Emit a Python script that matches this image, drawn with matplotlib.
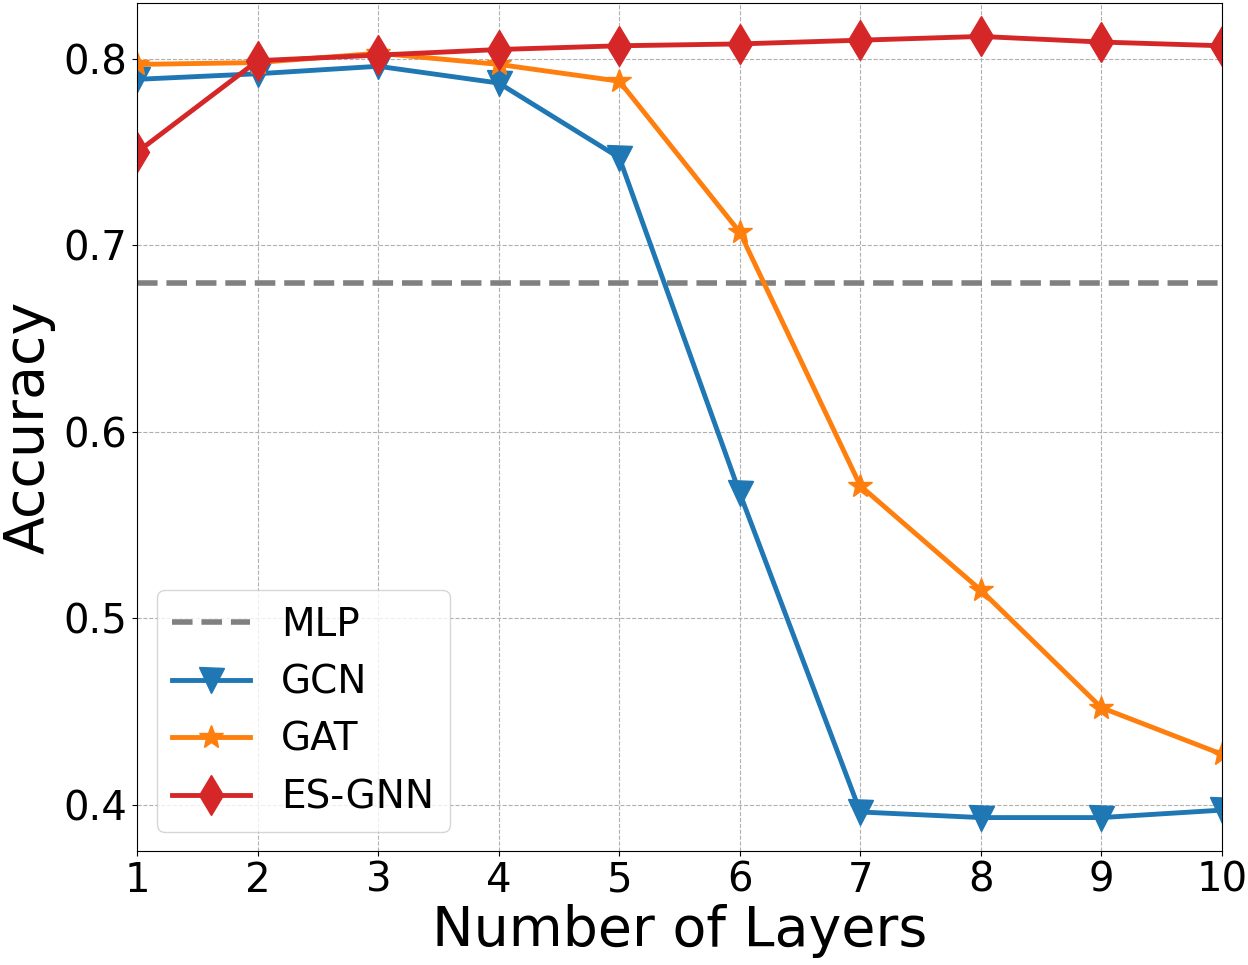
import matplotlib
matplotlib.use('Agg')
import matplotlib.pyplot as plt

layers = [1, 2, 3, 4, 5, 6, 7, 8, 9, 10]
mlp_acc = 0.680
gcn_acc = [0.789, 0.792, 0.796, 0.787, 0.747, 0.567, 0.396, 0.393, 0.393, 0.397]
gat_acc = [0.797, 0.798, 0.803, 0.797, 0.788, 0.707, 0.571, 0.515, 0.452, 0.427]
esgnn_acc = [0.750, 0.799, 0.802, 0.805, 0.807, 0.808, 0.810, 0.812, 0.809, 0.807]

plt.rcParams['font.family'] = ['DejaVu Sans']
fig, ax = plt.subplots(figsize=(12.48, 9.65), dpi=100)

ax.axhline(mlp_acc, color='gray', linestyle='--', linewidth=4, label='MLP')
ax.plot(layers, gcn_acc, color='#1f77b4', marker='v', markersize=18, linewidth=3.5, label='GCN')
ax.plot(layers, gat_acc, color='#ff7f0e', marker='*', markersize=18, linewidth=3.5, label='GAT')
ax.plot(layers, esgnn_acc, color='#d62728', marker='d', markersize=20, linewidth=3.5, label='ES-GNN')

ax.set_xlim(1, 10)
ax.set_ylim(0.375, 0.830)
ax.set_xticks(layers)
ax.set_yticks([0.4, 0.5, 0.6, 0.7, 0.8])
ax.tick_params(labelsize=29)
ax.grid(True, linestyle='--', linewidth=0.8, color='#b0b0b0')
ax.set_xlabel('Number of Layers', fontsize=40, labelpad=2)
ax.set_ylabel('Accuracy', fontsize=40, labelpad=6)
ax.legend(fontsize=28, loc='lower left')

plt.subplots_adjust(left=0.11, right=0.979, top=0.997, bottom=0.118)
plt.savefig('out.png')
